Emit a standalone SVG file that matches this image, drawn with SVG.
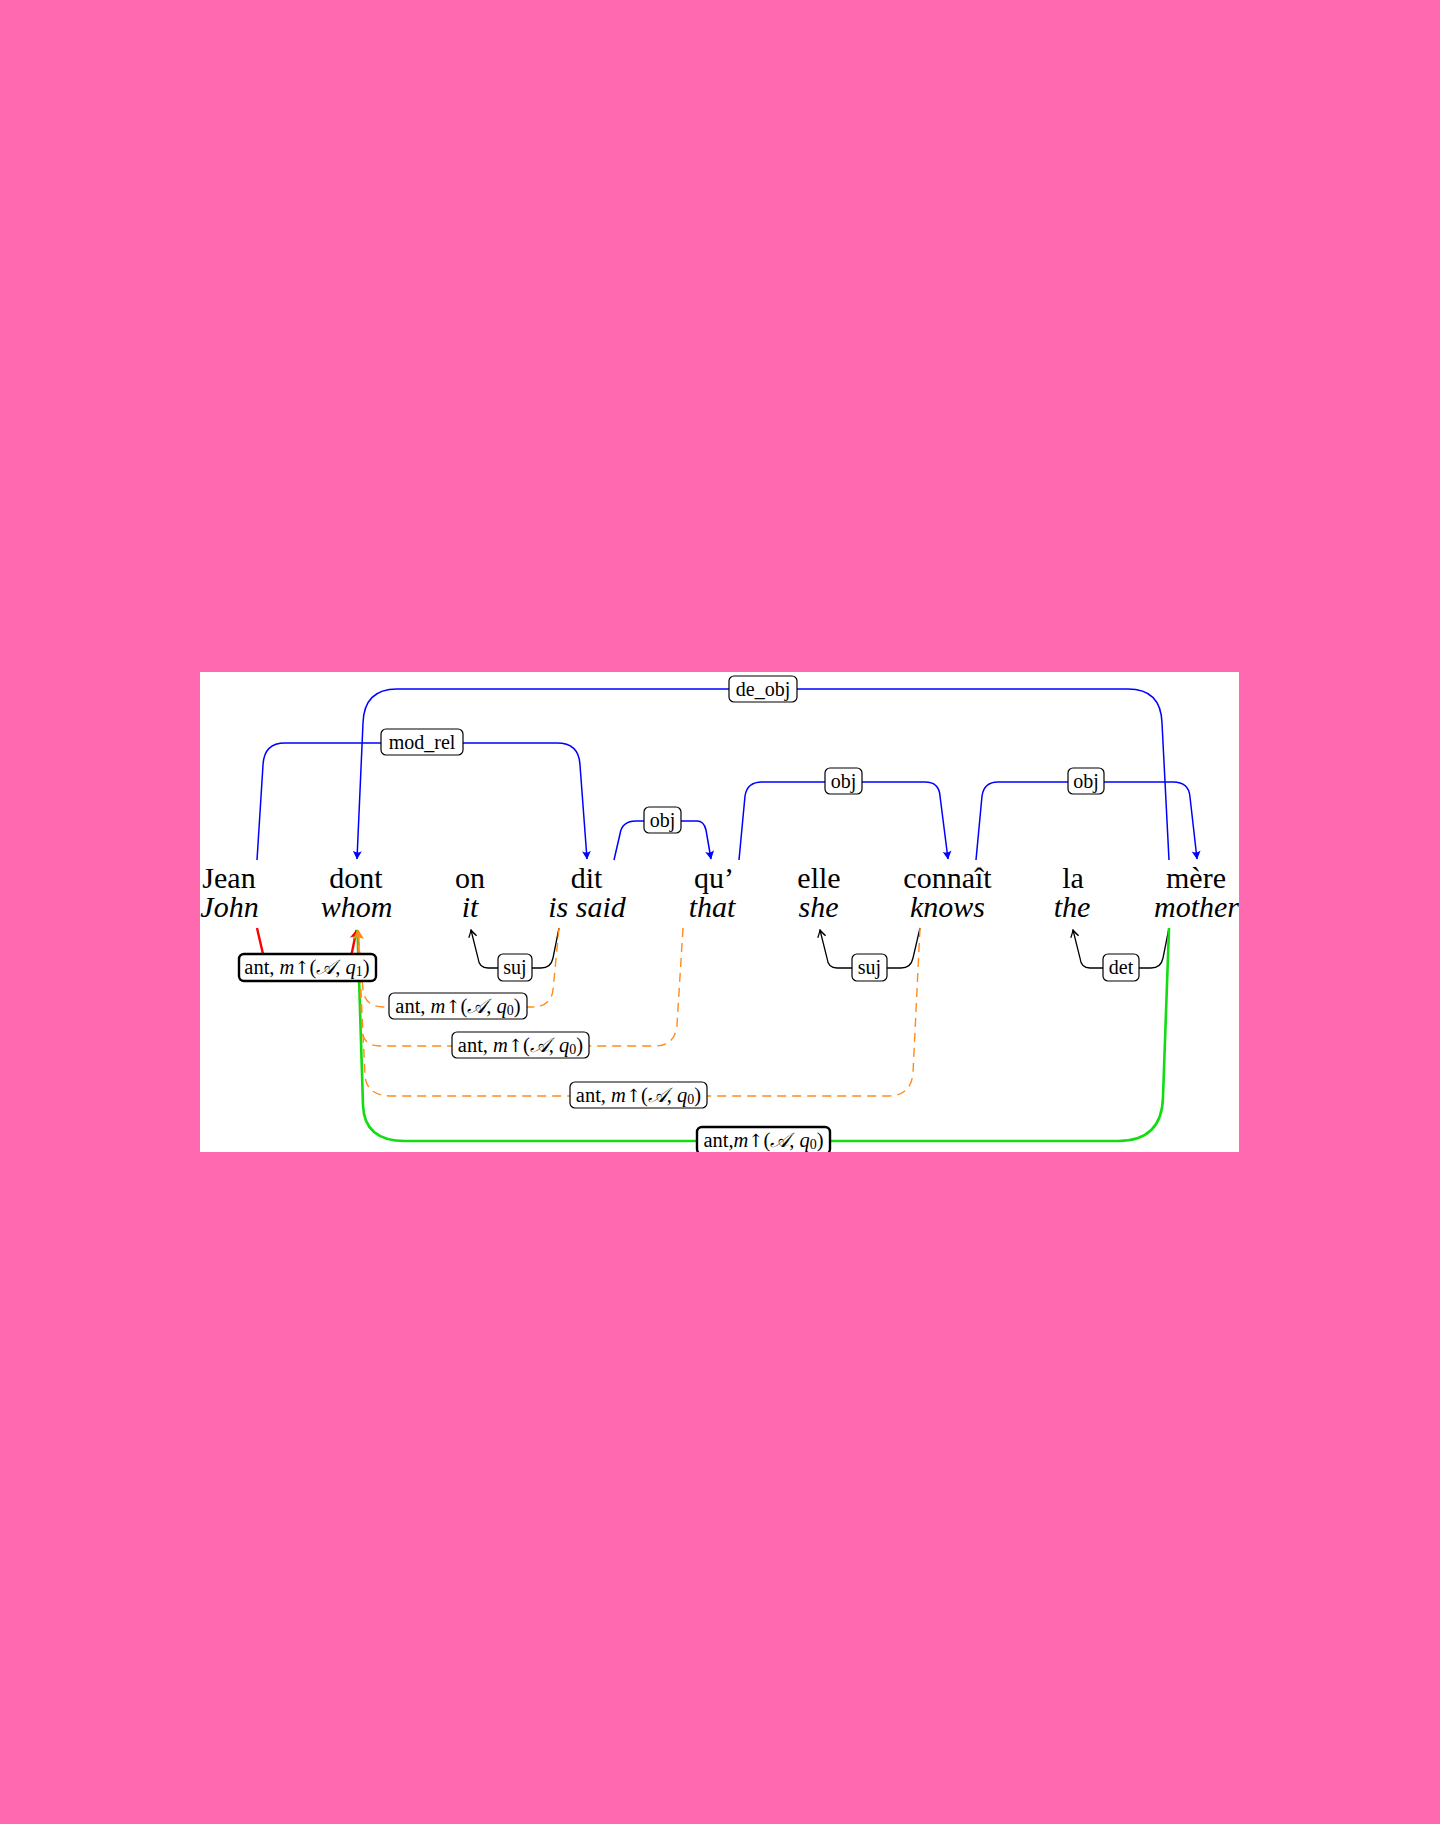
<svg xmlns="http://www.w3.org/2000/svg" width="1440" height="1824" viewBox="0 0 1440 1824">
<style>
.w{font-family:"Liberation Serif","Times New Roman",serif;font-size:30px;fill:#000;text-anchor:middle}
.g{font-style:italic}
.lb{fill:#fff;stroke:#000;stroke-width:1.2}
.lbt{fill:#fff;stroke:#000;stroke-width:2.4}
.lt{font-family:"Liberation Serif","Times New Roman",serif;font-size:20px;fill:#000;text-anchor:middle;dominant-baseline:central}
.la{font-size:20.5px}
.i{font-style:italic}
.ar{font-family:"DejaVu Serif",serif;font-size:18px}
.blue{fill:none;stroke:#0000ff;stroke-width:1.5}
.blk{fill:none;stroke:#000;stroke-width:1.3}
.org{fill:none;stroke:#ff8c1a;stroke-width:1.4;stroke-dasharray:9,6}
.grn{fill:none;stroke:#11dd11;stroke-width:2.6}
.red{fill:none;stroke:#ff0000;stroke-width:2.4}
</style>
<defs>
<marker id="mb" viewBox="-11 -6 12 12" refX="0" refY="0" markerWidth="12" markerHeight="12" markerUnits="userSpaceOnUse" orient="auto">
<path d="M0.5,0 L-8,-4.5 Q-5,0 -8,4.5 Z" fill="#0000ff"/>
</marker>
<marker id="mk" viewBox="-11 -6 12 12" refX="0" refY="0" markerWidth="12" markerHeight="12" markerUnits="userSpaceOnUse" orient="auto">
<path d="M-7,-4 Q-2,-0.8 0,0 Q-2,0.8 -7,4" fill="none" stroke="#000" stroke-width="1.3"/>
</marker>
<marker id="mo" viewBox="-11 -6 12 12" refX="0" refY="0" markerWidth="12" markerHeight="12" markerUnits="userSpaceOnUse" orient="auto">
<path d="M0.5,0 L-9,-5 Q-5,0 -9,5 Z" fill="#ff8c1a"/>
</marker>
<marker id="mg" viewBox="-11 -6 12 12" refX="0" refY="0" markerWidth="12" markerHeight="12" markerUnits="userSpaceOnUse" orient="auto">
<path d="M0.5,0 L-9,-5 Q-5,0 -9,5 Z" fill="#11dd11"/>
</marker>
<marker id="mr" viewBox="-11 -6 12 12" refX="0" refY="0" markerWidth="12" markerHeight="12" markerUnits="userSpaceOnUse" orient="auto">
<path d="M0.5,0 L-9,-5 Q-5,0 -9,5 Z" fill="#ff0000"/>
</marker>
<clipPath id="clip"><rect x="200" y="672" width="1039" height="480"/></clipPath>
</defs>
<rect x="0" y="0" width="1440" height="1824" fill="#ff69b0"/>
<rect x="200" y="672" width="1039" height="480" fill="#ffffff"/>
<g clip-path="url(#clip)">
<g id="connectors">
<path class="blue" d="M1169,860 L1162,723 Q1161,689 1128,689 L397,689 Q364,689 363,723 L357,859" marker-end="url(#mb)"/>
<path class="blue" d="M257,860 L263,765 Q264,743 285,743 L557,743 Q579,743 580,765 L587,859" marker-end="url(#mb)"/>
<path class="blue" d="M614,860 L620,834 Q622,821 636,821 L697,821 Q704,821 706,830 L711,859" marker-end="url(#mb)"/>
<path class="blue" d="M739,860 L745,796 Q747,782 762,782 L925,782 Q939,782 940,796 L948,859" marker-end="url(#mb)"/>
<path class="blue" d="M976,860 L982,796 Q984,782 998,782 L1173,782 Q1189,782 1190,797 L1197,859" marker-end="url(#mb)"/>
<path class="blk" d="M559,928 L553,958 Q551,968 541,968 L488,968 Q479,968 478,958 L471,930" marker-end="url(#mk)"/>
<path class="blk" d="M920,928 L913,958 Q911,968 901,968 L837,968 Q828,968 827,958 L820,930" marker-end="url(#mk)"/>
<path class="blk" d="M1169,928 L1163,958 Q1161,968 1151,968 L1090,968 Q1081,968 1080,958 L1073,930" marker-end="url(#mk)"/>
<path class="red" d="M257,928 L266,967 L349,967 L356.5,930" marker-end="url(#mr)"/>
<path class="grn" d="M1169,928 L1163,1097 Q1162,1141 1118,1141 L405,1141 Q364,1141 363,1105 L357.5,930" marker-end="url(#mg)"/>
<path class="org" d="M559,928 L553,990 Q551,1007 532,1007 L384,1007 Q365,1007 363,990 L358,930" marker-end="url(#mo)"/>
<path class="org" d="M683,928 L677,1025 Q675,1046 655,1046 L380,1046 Q363,1046 362,1030 L358,930" marker-end="url(#mo)"/>
<path class="org" d="M920,928 L913,1073 Q911,1096 888,1096 L392,1096 Q366,1096 365,1075 L358,930" marker-end="url(#mo)"/>
</g>
<g id="w-jean"><text class="w" x="229" y="888">Jean</text><text class="w g" x="229.5" y="917">John</text></g>
<g id="w-dont"><text class="w" x="356" y="888">dont</text><text class="w g" x="356.5" y="917">whom</text></g>
<g id="w-on"><text class="w" x="470" y="888">on</text><text class="w g" x="470" y="917">it</text></g>
<g id="w-dit"><text class="w" x="586.5" y="888">dit</text><text class="w g" x="587" y="917">is said</text></g>
<g id="w-qu"><text class="w" x="714" y="888">qu’</text><text class="w g" x="712" y="917">that</text></g>
<g id="w-elle"><text class="w" x="819" y="888">elle</text><text class="w g" x="818.5" y="917">she</text></g>
<g id="w-connait"><text class="w" x="947.5" y="888">connaît</text><text class="w g" x="947.5" y="917">knows</text></g>
<g id="w-la"><text class="w" x="1073" y="888">la</text><text class="w g" x="1072" y="917">the</text></g>
<g id="w-mere"><text class="w" x="1196" y="888">mère</text><text class="w g" x="1196.5" y="917">mother</text></g>
<g id="l-deobj"><rect class="lb" x="729" y="676" width="68" height="26" rx="5"/><text class="lt" x="763" y="689">de_obj</text></g>
<g id="l-modrel"><rect class="lb" x="381" y="729" width="82" height="26" rx="5"/><text class="lt" x="422" y="742">mod_rel</text></g>
<g id="l-obj1"><rect class="lb" x="644" y="807" width="37" height="26" rx="5"/><text class="lt" x="662.5" y="820">obj</text></g>
<g id="l-obj2"><rect class="lb" x="825" y="768" width="37" height="26" rx="5"/><text class="lt" x="843.5" y="781">obj</text></g>
<g id="l-obj3"><rect class="lb" x="1068" y="768" width="36" height="26" rx="5"/><text class="lt" x="1086" y="781">obj</text></g>
<g id="l-suj1"><rect class="lb" x="498" y="954" width="34" height="27" rx="5"/><text class="lt" x="515" y="967">suj</text></g>
<g id="l-suj2"><rect class="lb" x="852" y="954" width="35" height="27" rx="5"/><text class="lt" x="869.5" y="967">suj</text></g>
<g id="l-det"><rect class="lb" x="1103" y="954" width="36" height="27" rx="5"/><text class="lt" x="1121" y="967">det</text></g>
<g id="l-ant1"><rect class="lbt" x="239" y="954" width="137" height="27" rx="5"/><text class="lt la" x="307" y="967">ant, <tspan class="i">m</tspan><tspan class="ar">↑</tspan>(<tspan class="i">𝒜</tspan>, <tspan class="i">q</tspan><tspan font-size="14" dy="4">1</tspan><tspan dy="-4">)</tspan></text></g>
<g id="l-ant2"><rect class="lb" x="389" y="993" width="138" height="26" rx="5"/><text class="lt la" x="458" y="1006">ant, <tspan class="i">m</tspan><tspan class="ar">↑</tspan>(<tspan class="i">𝒜</tspan>, <tspan class="i">q</tspan><tspan font-size="14" dy="4">0</tspan><tspan dy="-4">)</tspan></text></g>
<g id="l-ant3"><rect class="lb" x="452" y="1032" width="137" height="26" rx="5"/><text class="lt la" x="520.5" y="1045">ant, <tspan class="i">m</tspan><tspan class="ar">↑</tspan>(<tspan class="i">𝒜</tspan>, <tspan class="i">q</tspan><tspan font-size="14" dy="4">0</tspan><tspan dy="-4">)</tspan></text></g>
<g id="l-ant4"><rect class="lb" x="570" y="1082" width="137" height="26" rx="5"/><text class="lt la" x="638.5" y="1095">ant, <tspan class="i">m</tspan><tspan class="ar">↑</tspan>(<tspan class="i">𝒜</tspan>, <tspan class="i">q</tspan><tspan font-size="14" dy="4">0</tspan><tspan dy="-4">)</tspan></text></g>
<g id="l-ant5"><rect class="lbt" x="697" y="1127" width="133" height="27" rx="5"/><text class="lt la" x="763.5" y="1140">ant,<tspan class="i">m</tspan><tspan class="ar">↑</tspan>(<tspan class="i">𝒜</tspan>, <tspan class="i">q</tspan><tspan font-size="14" dy="4">0</tspan><tspan dy="-4">)</tspan></text></g>
</g>
</svg>
